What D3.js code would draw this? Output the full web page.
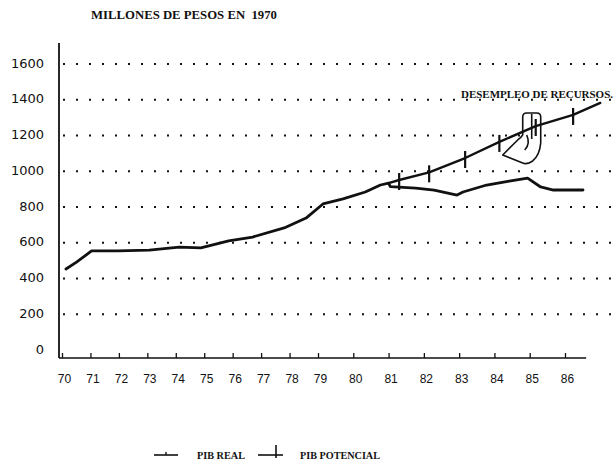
<!DOCTYPE html>
<html>
<head>
<meta charset="utf-8">
<script src="https://cdn.jsdelivr.net/npm/d3@7"></script>
<style>
  body { margin: 0; background: #fff; }
  svg { display: block; }
  .grid line { stroke: #111; stroke-width: 2; stroke-dasharray: 2 11; }
  .serie { fill: none; stroke: #111; stroke-linejoin: round; stroke-linecap: round; }
  .plotter { font-family: "Liberation Serif", serif; font-weight: bold; fill: #111; white-space: pre; }
</style>
</head>
<body>
<div id="chart"></div>
<script>

// ejes
var years = [70, 71, 72, 73, 74, 75, 76, 77, 78, 79, 80, 81, 82, 83, 84, 85, 86];
var valueTicks = [0, 200, 400, 600, 800, 1000, 1200, 1400, 1600];

// PIB real
var realYears = [70.14, 70.51, 71.04, 71.96, 73.07, 74.12, 74.88, 75.86, 76.70, 77.81,
                 78.58, 79.14, 79.71, 80.34, 80.77, 81.0, 81.05, 81.77, 82.29, 82.94,
                 83.11, 83.78, 84.42, 84.94, 85.31, 85.67, 86.51];
var realValues = [453, 492, 554, 554, 559, 576, 571, 610, 632, 683,
                  738, 817, 845, 884, 923, 934, 914, 906, 895, 867,
                  884, 923, 945, 962, 912, 895, 895];

// PIB potencial
var potYears = [81.0, 81.3, 82.15, 83.17, 84.14, 85.17, 86.23, 87.0];
var potValues = [934, 951, 994, 1074, 1164, 1253, 1315, 1382];

var legendLabels = ['PIB REAL', 'PIB POTENCIAL'];
var title = 'MILLONES DE PESOS EN  1970';
var note = 'DESEMPLEO DE RECURSOS.';

(function () {
  var width = 616, height = 467;

  var svg = d3.select('#chart')
    .append('svg')
      .attr('width', width)
      .attr('height', height);

  // the scan is a bit stretched after 79, so the x scale is polylinear
  var x = d3.scaleLinear().domain([70, 79, 86]).range([62, 318, 565]);
  var y = d3.scaleLinear().domain([0, 1600]).range([350, 64]);
  var axisY = y(0) + 8;

  svg.append('text')
    .attr('class', 'plotter')
    .attr('x', 91)
    .attr('y', 19)
    .attr('font-size', 12)
    .attr('textLength', 186)
    .attr('lengthAdjust', 'spacingAndGlyphs')
    .text(title);

  // dotted grid
  svg.append('g')
      .attr('class', 'grid')
    .selectAll('line')
    .data(valueTicks.filter(function (d) { return d > 0; }))
    .enter().append('line')
      .attr('x1', 63)
      .attr('x2', 612)
      .attr('y1', function (d) { return y(d); })
      .attr('y2', function (d) { return y(d); });

  // y labels
  var gy = svg.append('g')
    .attr('transform', 'translate(59,-1)')
    .call(d3.axisLeft(y).tickValues(valueTicks).tickFormat(d3.format('d'))
      .tickSize(0).tickPadding(15));
  gy.select('.domain').remove();
  gy.selectAll('text')
    .attr('font-family', '"DejaVu Sans", sans-serif')
    .attr('font-size', 13)
    .attr('fill', '#111');

  svg.append('line')
    .attr('x1', 59).attr('x2', 59)
    .attr('y1', 43).attr('y2', axisY)
    .attr('stroke', '#111')
    .attr('stroke-width', 1.8);

  // x axis, ticks point up
  var gx = svg.append('g')
    .attr('transform', 'translate(0,' + axisY + ')')
    .call(d3.axisBottom(x).tickValues(years).tickSize(-5).tickPadding(16));
  gx.select('.domain').remove();
  gx.selectAll('.tick line').attr('stroke', '#111').attr('stroke-width', 1.3);
  gx.selectAll('text')
    .attr('dx', 2)
    .attr('font-family', '"Liberation Sans", sans-serif')
    .attr('font-size', 12)
    .attr('fill', '#111');

  svg.append('line')
    .attr('x1', 59).attr('x2', x(86.6))
    .attr('y1', axisY).attr('y2', axisY)
    .attr('stroke', '#111')
    .attr('stroke-width', 1.5);

  // the pointing hand under the note
  var hx = x(85) - 7, hy = y(1326);
  var hand = svg.append('g')
    .attr('transform', 'translate(' + hx + ',' + hy + ')')
    .attr('fill', '#fff')
    .attr('stroke', '#111')
    .attr('stroke-width', 1.6)
    .attr('stroke-linejoin', 'round');
  hand.append('path')
    .attr('d', 'M0,22 V4 Q0,0 4,0 H14 Q18,0 18,4 V30 Q17,42 10,48 Q4,52 0,50 ' +
               'L-20,42 Q-12,34 -5,27 Q-1,24 0,22');
  hand.append('path')
    .attr('fill', 'none')
    .attr('d', 'M9,1 V26 M4,22 Q8,31 2,37');

  var line = d3.line()
    .x(function (d) { return x(d[0]); })
    .y(function (d) { return y(d[1]); })
    .curve(d3.curveLinear);

  var real = d3.zip(realYears, realValues);
  var pot = d3.zip(potYears, potValues);

  svg.append('path')
    .datum(pot)
    .attr('class', 'serie')
    .attr('stroke-width', 2.4)
    .attr('d', line);

  svg.append('path')
    .datum(real)
    .attr('class', 'serie')
    .attr('stroke-width', 2.8)
    .attr('d', line);

  // crosses on potencial
  svg.append('g')
    .selectAll('line')
    .data(pot.slice(1, -1))
    .enter().append('line')
      .attr('x1', function (d) { return x(d[0]); })
      .attr('x2', function (d) { return x(d[0]); })
      .attr('y1', function (d) { return y(d[1]) - 7; })
      .attr('y2', function (d) { return y(d[1]) + 10; })
      .attr('stroke', '#111')
      .attr('stroke-width', 2.2);

  svg.append('text')
    .attr('class', 'plotter')
    .attr('x', 613)
    .attr('y', y(1400) - 2)
    .attr('text-anchor', 'end')
    .attr('font-size', 11)
    .attr('textLength', 152)
    .attr('lengthAdjust', 'spacingAndGlyphs')
    .text(note);

  // legend
  var ly = 455;
  var legend = svg.append('g').attr('stroke', '#111');
  legend.append('line')
    .attr('x1', 154).attr('x2', 178).attr('y1', ly).attr('y2', ly)
    .attr('stroke-width', 1.6);
  legend.append('line')
    .attr('x1', 166).attr('x2', 166).attr('y1', ly - 3).attr('y2', ly)
    .attr('stroke-width', 1.4);
  legend.append('line')
    .attr('x1', 258).attr('x2', 283).attr('y1', ly).attr('y2', ly)
    .attr('stroke-width', 1.6);
  legend.append('line')
    .attr('x1', 276).attr('x2', 276).attr('y1', ly - 10).attr('y2', ly + 3)
    .attr('stroke-width', 1.6);

  svg.selectAll('text.legend')
    .data(legendLabels)
    .enter().append('text')
      .attr('class', 'plotter legend')
      .attr('x', function (d, i) { return i ? 300 : 197; })
      .attr('y', ly + 4)
      .attr('font-size', 10.5)
      .attr('textLength', function (d, i) { return i ? 80 : 48; })
      .attr('lengthAdjust', 'spacingAndGlyphs')
      .text(function (d) { return d; });
})();

</script>
</body>
</html>
